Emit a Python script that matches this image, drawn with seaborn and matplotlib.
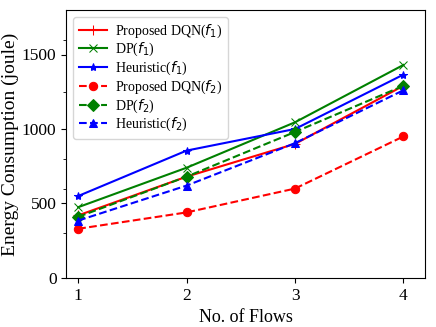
import matplotlib
matplotlib.use("Agg")
import matplotlib.pyplot as plt
import seaborn as sns

flows = [1, 2, 3, 4]
dqn_f1 = [420, 680, 900, 1290]
dp_f1 = [475, 740, 1045, 1430]
heur_f1 = [550, 855, 1000, 1365]
dqn_f2 = [330, 440, 600, 950]
dp_f2 = [410, 680, 980, 1290]
heur_f2 = [385, 620, 905, 1260]

series = [
    ("Proposed DQN($f_1$)", dqn_f1, "red", "-", "+", 7),
    ("DP($f_1$)", dp_f1, "green", "-", "x", 6),
    ("Heuristic($f_1$)", heur_f1, "blue", "-", "*", 6),
    ("Proposed DQN($f_2$)", dqn_f2, "red", "--", "o", 6),
    ("DP($f_2$)", dp_f2, "green", "--", "D", 6),
    ("Heuristic($f_2$)", heur_f2, "blue", "--", "^", 6),
]

plt.rcParams['font.family'] = ['Liberation Serif', 'DejaVu Serif']
plt.rcParams['mathtext.fontset'] = 'dejavusans'

fig, ax = plt.subplots(figsize=(4.36, 3.27), dpi=100)

for label, vals, color, ls, marker, ms in series:
    sns.lineplot(x=flows, y=vals, ax=ax, color=color, linestyle=ls,
                 marker=marker, markersize=ms, label=label, linewidth=1.5,
                 markeredgecolor=color)

ax.set_xlim(0.89, 4.2)
ax.set_ylim(0, 1800)
ax.set_xticks(flows)
ax.set_yticks([0, 500, 1000, 1500])
ax.set_yticks([300, 600, 800, 1250, 1600], minor=True)
ax.tick_params(labelsize=12.5)
ax.set_xlabel("No. of Flows", fontsize=13)
ax.set_ylabel("Energy Consumption (joule)", fontsize=14, labelpad=2)
ax.legend(loc="upper left", fontsize=10, handlelength=2.0, handletextpad=0.6,
          labelspacing=0.1, borderpad=0.4)

fig.subplots_adjust(left=0.152, right=0.975, top=0.97, bottom=0.15)
fig.savefig("out.png", dpi=100)
